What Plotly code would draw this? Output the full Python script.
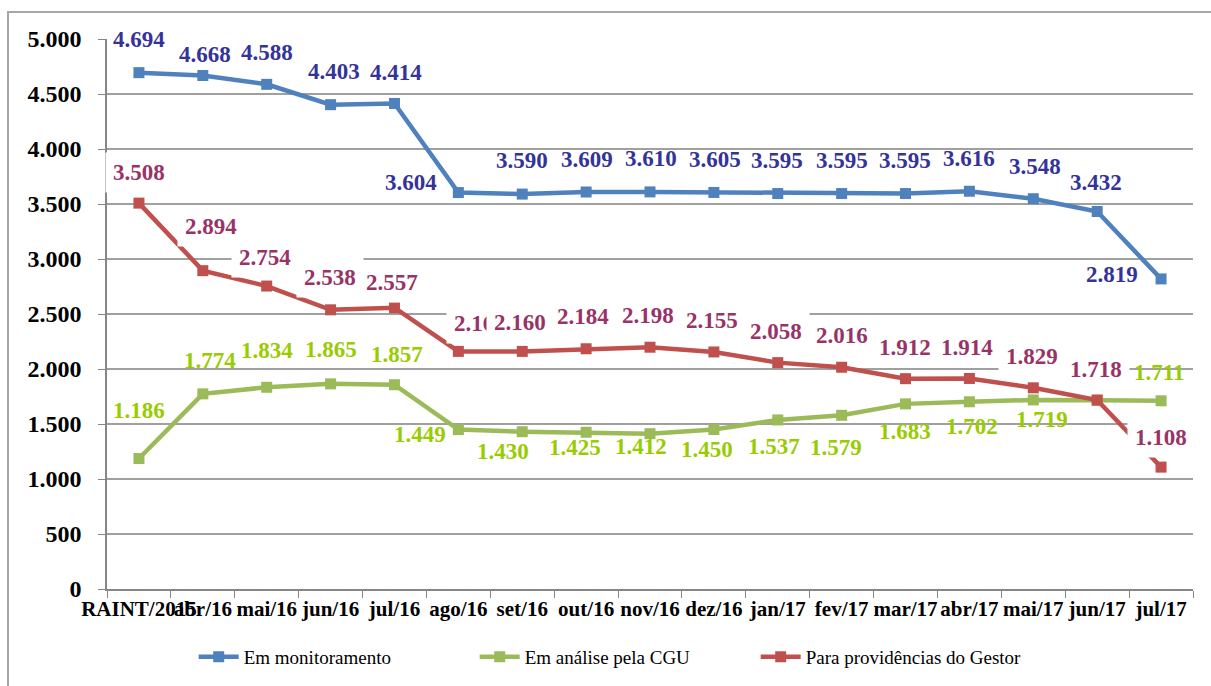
import plotly.graph_objects as go

# --- data -------------------------------------------------------------
categories = ["RAINT/2015", "abr/16", "mai/16", "jun/16", "jul/16", "ago/16",
              "set/16", "out/16", "nov/16", "dez/16", "jan/17", "fev/17",
              "mar/17", "abr/17", "mai/17", "jun/17", "jul/17"]

em_monitoramento = [4694, 4668, 4588, 4403, 4414, 3604, 3590, 3609, 3610,
                    3605, 3595, 3595, 3595, 3616, 3548, 3432, 2819]
em_analise_cgu = [1186, 1774, 1834, 1865, 1857, 1449, 1430, 1425, 1412,
                  1450, 1537, 1579, 1683, 1702, 1719, 1715, 1711]
para_providencias = [3508, 2894, 2754, 2538, 2557, 2160, 2160, 2184, 2198,
                     2155, 2058, 2016, 1912, 1914, 1829, 1718, 1108]

# --- label placement (pixel shifts: right, up) ------------------------
blue_offsets = [(0, 33), (2, 21), (0, 32), (3, 33), (2, 31), (-47, 10), (0, 34),
                (1, 33), (1, 33), (1, 33), (-1, 33), (0, 33), (-1, 33), (0, 33),
                (2, 32), (-1, 29), (-49, 4)]
red_offsets = [(0, 31), (8, 44), (-2, 29), (-1, 32), (-2, 25), (22, 28), (-2, 29),
               (-3, 32), (-2, 32), (-2, 31), (-2, 31), (0, 32), (-1, 31), (-2, 31),
               (-1, 31), (-1, 31), (0, 30)]
green_offsets = [(0, 48), (7, 33), (0, 37), (0, 34), (3, 30), (-38, -5), (-19, -20),
                 (-11, -15), (-9, -13), (-7, -20), (-4, -27), (-6, -32), (-1, -28),
                 (3, -25), (9, -20), (0, 30), (-2, 28)]

FONT = "Times New Roman"


def fmt(v):
    return f"{v:,}".replace(",", ".")


series = [
    ("Em monitoramento", em_monitoramento, "#4F81BD", "#333399", blue_offsets, None),
    ("Em análise pela CGU", em_analise_cgu, "#9BBB59", "#99CC00", green_offsets, None),
    ("Para providências do Gestor", para_providencias, "#C0504D", "#993366", red_offsets, "white"),
]

fig = go.Figure()
for name, vals, line_color, _, _, _ in series:
    fig.add_trace(go.Scatter(
        x=categories, y=vals, name=name, mode="lines+markers",
        line=dict(color=line_color, width=4.5),
        marker=dict(symbol="square", size=11, color=line_color),
    ))

annotations = []
# green first, then blue, then red (red labels have opaque boxes on top)
for idx in (1, 0, 2):
    name, vals, _, text_color, offsets, bg = series[idx]
    for cat, v, (dx, dy) in zip(categories, vals, offsets):
        ann = dict(
            x=cat, y=v, xref="x", yref="y", text=f"<b>{fmt(v)}</b>", showarrow=False,
            xshift=dx, yshift=dy,
            font=dict(family=FONT, size=23, color=text_color),
        )
        if bg:
            ann.update(bgcolor=bg, borderpad=7)
        annotations.append(ann)

# outer frame around the chart area
L, R, T, B = 107, 1193, 39, 589
pw, ph = R - L, B - T
frame = dict(
    type="rect", xref="paper", yref="paper",
    x0=(8 - L) / pw, x1=(1216 - L) / pw,
    y0=(B - 692) / ph, y1=(B - 12) / ph,
    line=dict(color="#A6A6A6", width=2), fillcolor="rgba(0,0,0,0)", layer="below",
)

fig.update_layout(
    width=1211, height=686,
    margin=dict(l=L, r=1211 - R, t=T, b=686 - B),
    paper_bgcolor="white", plot_bgcolor="white",
    separators=",.",
    showlegend=True,
    font=dict(family=FONT),
    legend=dict(
        orientation="h", xref="container", yref="container",
        x=0.508, xanchor="center", y=1 - 657 / 686, yanchor="middle",
        font=dict(family=FONT, size=19, color="black"),
        entrywidth=226, entrywidthmode="pixels", itemwidth=40,
    ),
    xaxis=dict(
        type="category", range=[-0.5, 16.5], tickson="boundaries",
        ticks="outside", ticklen=7, tickcolor="#868686", tickangle=0,
        showline=True, linecolor="#868686", linewidth=1.5,
        showgrid=False, zeroline=False,
        tickfont=dict(family=FONT, size=21, color="black", weight="bold"),
    ),
    yaxis=dict(
        range=[0, 5000], dtick=500, tickformat=",d",
        ticks="outside", ticklen=7, tickcolor="#868686", ticklabelstandoff=12,
        showline=True, linecolor="#868686", linewidth=1.5,
        showgrid=True, gridcolor="#A0A0A0", gridwidth=1.5, zeroline=False,
        tickfont=dict(family=FONT, size=24, color="black", weight="bold"),
    ),
    annotations=annotations,
    shapes=[frame],
)

fig.write_html("out.html")
